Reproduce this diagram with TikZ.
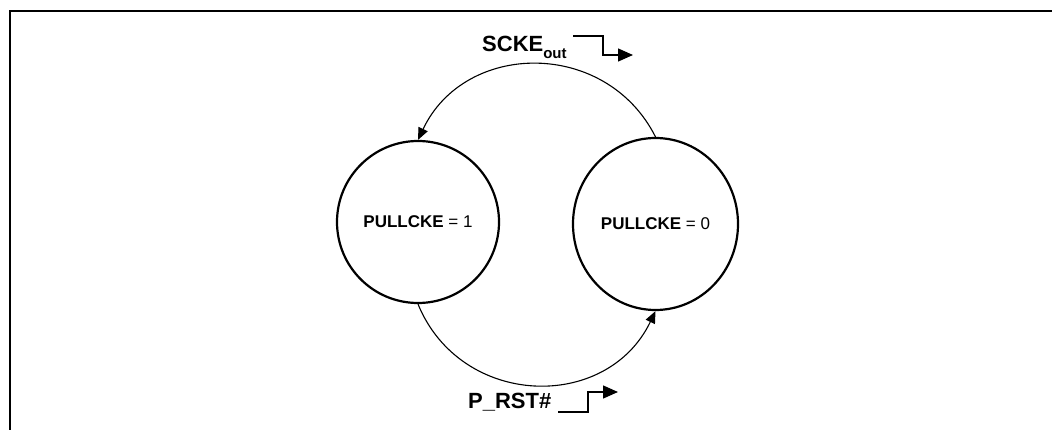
\documentclass[tikz,border=0pt]{standalone}
\usepackage{fontspec}
\setmainfont{Liberation Sans}
\usetikzlibrary{arrows.meta,shapes.geometric}

\begin{document}
\begin{tikzpicture}[x=1pt,y=-1pt,
	state/.style={ellipse,draw,line width=2.2pt,inner sep=0pt},
	trans/.style={line width=1.1pt,-{Triangle[length=12pt,width=10pt]}},
	wave/.style={line width=1.4pt,-{Triangle[length=15pt,width=13pt]}},
	sig/.style={anchor=base west,inner sep=0pt,font=\fontsize{22}{24}\selectfont\bfseries}]
\useasboundingbox (0,0) rectangle (1052,430);
\draw[line width=2pt] (10,430) -- (10,11) -- (1052,11);
% the two states
\node[state,minimum width=162pt,minimum height=162pt] (pullhi) at (418,222)
	{\fontsize{17}{20}\selectfont\textbf{PULLCKE} = 1};
\node[state,minimum width=165pt,minimum height=172pt] (pulllo) at (655.5,224)
	{\fontsize{17}{20}\selectfont\textbf{PULLCKE} = 0};
\draw[trans] (pulllo.north) to[bend right=64,looseness=1.18] (pullhi.north);
\draw[trans] (pullhi.south) to[bend right=66,looseness=1.21] (pulllo.south);
% signal labels with their edges
\node[sig] (sckelbl) at (482,52) {SCKE\raisebox{-7pt}{\fontsize{15}{15}\selectfont out}};
\node[sig] (rstlbl) at (468,408) {P\_RST\#};
\coordinate (fall) at (573,36);
\coordinate (rise) at (558,412);
\draw[wave] (fall) -- ++(30,0) -- ++(0,19) -- ++(30,0);
\draw[wave] (rise) -- ++(30,0) -- ++(0,-20) -- ++(30,0);
\end{tikzpicture}
\end{document}
